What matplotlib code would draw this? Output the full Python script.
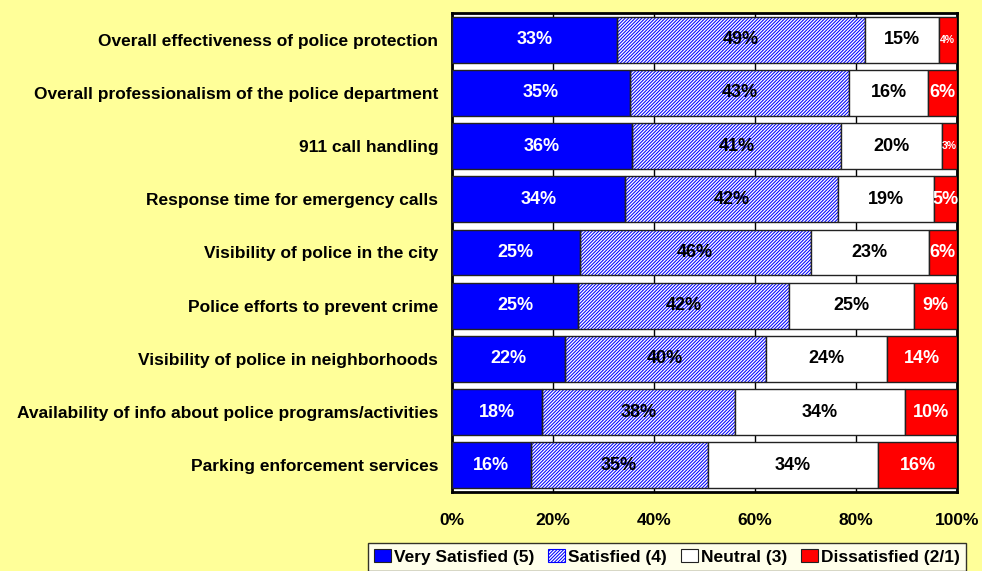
"""
stacked satisfaction bars for police services
"""
import numpy as np
import matplotlib
matplotlib.use('Agg')
from matplotlib import pyplot as plt
from matplotlib.patches import Patch

categories = [
    'Overall effectiveness of police protection',
    'Overall professionalism of the police department',
    '911 call handling',
    'Response time for emergency calls',
    'Visibility of police in the city',
    'Police efforts to prevent crime',
    'Visibility of police in neighborhoods',
    'Availability of info about police programs/activities',
    'Parking enforcement services',
]
very_satisfied = [32.6, 35.3, 35.7, 34.3, 25.3, 25.0, 22.4, 17.8, 15.6]
satisfied = [49.2, 43.4, 41.4, 42.1, 45.7, 41.8, 39.7, 38.2, 35.0]
neutral = [14.6, 15.6, 20.0, 19.0, 23.4, 24.6, 24.1, 33.8, 33.8]
dissatisfied = [3.6, 5.7, 2.9, 4.6, 5.6, 8.6, 13.8, 10.2, 15.6]
series_names = ['Very Satisfied (5)', 'Satisfied (4)', 'Neutral (3)', 'Dissatisfied (2/1)']
x_ticks = [0, 20, 40, 60, 80, 100]

BG = '#FFFF99'
BLUE = '#0000FF'
RED = '#FF0000'
HATCH = '//////////'

plt.rcParams['font.family'] = ['Liberation Sans', 'DejaVu Sans']
plt.rcParams['font.weight'] = 'bold'
plt.rcParams['hatch.linewidth'] = 0.75

fig = plt.figure(figsize=(9.82, 5.71), dpi=100, facecolor=BG)
ax = fig.add_axes([0.4603, 0.1384, 0.5142, 0.8388])
ax.set_facecolor('white')

y = np.arange(len(categories))
h = 0.86
left = np.zeros(len(categories))

series = [very_satisfied, satisfied, neutral, dissatisfied]
for k, vals in enumerate(series):
    vals = np.asarray(vals)
    if k == 1:
        # hatch drawn in blue, outline added on top in black
        ax.barh(y, vals, left=left, height=h, color='white', edgecolor=BLUE,
                hatch=HATCH, linewidth=0, zorder=2)
        ax.barh(y, vals, left=left, height=h, fill=False, edgecolor='#222222',
                linewidth=1.0, zorder=3)
    else:
        fc = {0: BLUE, 2: 'white', 3: RED}[k]
        ax.barh(y, vals, left=left, height=h, color=fc, edgecolor='#222222',
                linewidth=1.0, zorder=3)
    txt_col = 'white' if k in (0, 3) else 'black'
    for yi, l, v in zip(y, left, vals):
        fs = 13 if v >= 4.5 else 7.5
        ax.text(l + v / 2, yi, f'{v:.0f}%', ha='center', va='center',
                color=txt_col, fontsize=fs, fontweight='bold', zorder=4)
    left = left + vals

ax.set_xlim(0, 100)
ax.set_ylim(len(categories) - 0.5, -0.5)
ax.set_yticks(y)
ax.set_yticklabels(categories, fontsize=12.5, fontweight='bold')
ax.set_xticks(x_ticks)
ax.set_xticklabels([f'{t}%' for t in x_ticks], fontsize=12.5, fontweight='bold')
ax.tick_params(axis='y', length=0, pad=10)
ax.tick_params(axis='x', length=0, pad=15)
ax.grid(axis='x', color='black', linewidth=1.0, zorder=1)
ax.set_axisbelow(True)
for sp in ax.spines.values():
    sp.set_linewidth(2.0)
    sp.set_color('black')

handles = [
    Patch(facecolor=BLUE, edgecolor='#222222', linewidth=0.8),
    Patch(facecolor='white', edgecolor=BLUE, hatch=HATCH, linewidth=0.8),
    Patch(facecolor='white', edgecolor='#222222', linewidth=0.8),
    Patch(facecolor=RED, edgecolor='#222222', linewidth=0.8),
]
leg = fig.legend(handles, series_names, loc='lower right', bbox_to_anchor=(0.987, -0.006),
                 ncol=4, frameon=True, fancybox=False,
                 handlelength=1.0, handleheight=0.75, handletextpad=0.15,
                 columnspacing=0.8, borderpad=0.35, borderaxespad=0.2,
                 prop={'weight': 'bold', 'size': 12.5})
leg.get_frame().set_edgecolor('black')
leg.get_frame().set_linewidth(1.0)

fig.savefig('out.png', dpi=100, facecolor=BG)
